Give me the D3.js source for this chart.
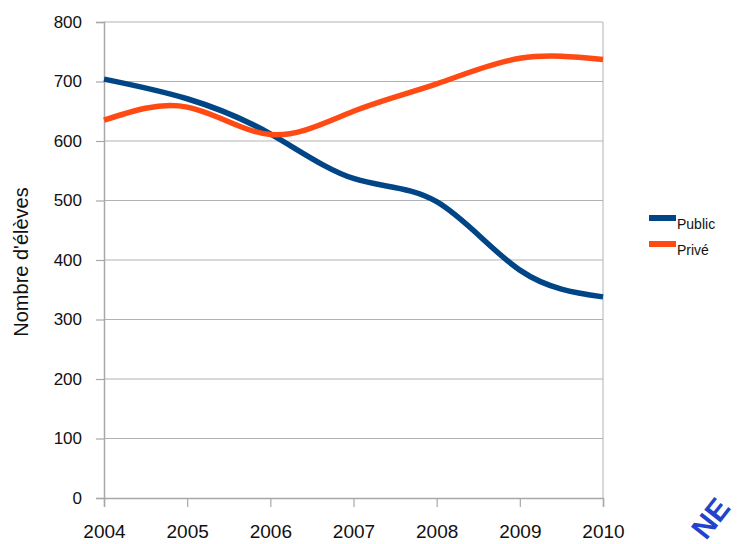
<!DOCTYPE html>
<html>
<head>
<meta charset="utf-8">
<script src="https://cdn.jsdelivr.net/npm/d3@7"></script>
<style>
  body { margin: 0; background: #fff; }
  svg { display: block; font-family: "Liberation Sans", Arial, sans-serif; }
</style>
</head>
<body>
<div id="chart"></div>
<script>
// data
let years = [2004, 2005, 2006, 2007, 2008, 2009, 2010],
    publicData = [704, 671, 612, 537, 498, 383, 338],
    priveData = [635, 657, 611, 650, 696, 739, 737],
    yTicks = [0, 100, 200, 300, 400, 500, 600, 700, 800];

let seriesNames = ['Public', 'Privé'],
    seriesColors = ['#004586', '#ff4a14'];

let width = 748,
    height = 544;

let svg = d3.select('#chart').append('svg')
    .attr('width', width)
    .attr('height', height);

let x = d3.scaleLinear().domain([2004, 2010]).range([104, 603]); // horizontal
let y = d3.scaleLinear().domain([0, 800]).range([498, 22]); // vertical

// grid lines
svg.append('g')
    .selectAll('line')
    .data(yTicks.filter(d => d > 0))
    .enter().append('line')
    .attr('x1', x(2004)).attr('x2', x(2010))
    .attr('y1', d => y(d)).attr('y2', d => y(d))
    .attr('stroke', '#b3b3b3')
    .attr('stroke-width', 1);

// right frame
svg.append('line')
    .attr('x1', x(2010)).attr('x2', x(2010))
    .attr('y1', y(800)).attr('y2', y(0))
    .attr('stroke', '#b3b3b3');

// y axis
let yAxis = svg.append('g')
    .attr('transform', 'translate(' + x(2004) + ',0)')
    .call(d3.axisLeft(y).tickValues(yTicks).tickSize(8).tickPadding(14));

// x axis
let xAxis = svg.append('g')
    .attr('transform', 'translate(0,' + y(0) + ')')
    .call(d3.axisBottom(x).tickValues(years).tickFormat(d3.format('d')).tickSize(9).tickPadding(18));

[yAxis, xAxis].forEach(g => {
    g.select('.domain').attr('stroke', '#a8a8a8').attr('stroke-width', 1.5);
    g.selectAll('.tick line').attr('stroke', '#a8a8a8').attr('stroke-width', 1.2);
    g.selectAll('.tick text').attr('fill', '#111').attr('font-family', '"Liberation Sans", Arial, sans-serif');
});
yAxis.selectAll('.tick text').attr('font-size', 17);
xAxis.selectAll('.tick text').attr('font-size', 19);

// axis title
svg.append('text')
    .attr('transform', 'translate(28,262) rotate(-90)')
    .attr('text-anchor', 'middle')
    .attr('font-size', 20)
    .attr('fill', '#111')
    .text("Nombre d'élèves");

// lines
let line = d3.line()
    .curve(d3.curveNatural)
    .x((d, i) => x(years[i]))
    .y(d => y(d));

[publicData, priveData].forEach((data, i) => {
    svg.append('path')
        .datum(data)
        .attr('d', line)
        .attr('fill', 'none')
        .attr('stroke', seriesColors[i])
        .attr('stroke-width', 5.5)
        .attr('stroke-linecap', 'butt');
});

// legend
let legend = svg.append('g');
seriesNames.forEach((name, i) => {
    let ly = 218 + i * 26;
    legend.append('rect')
        .attr('x', 649).attr('y', ly - 3)
        .attr('width', 27).attr('height', 6)
        .attr('fill', seriesColors[i]);
    legend.append('text')
        .attr('x', 677).attr('y', ly + 11)
        .attr('font-size', 14)
        .attr('fill', '#111')
        .text(name);
});

// stamp in the corner
svg.append('text')
    .attr('transform', 'translate(706,541) rotate(-52)')
    .attr('font-size', 30)
    .attr('font-weight', 'bold')
    .attr('fill', '#2244cc')
    .text('NE');
</script>
</body>
</html>
